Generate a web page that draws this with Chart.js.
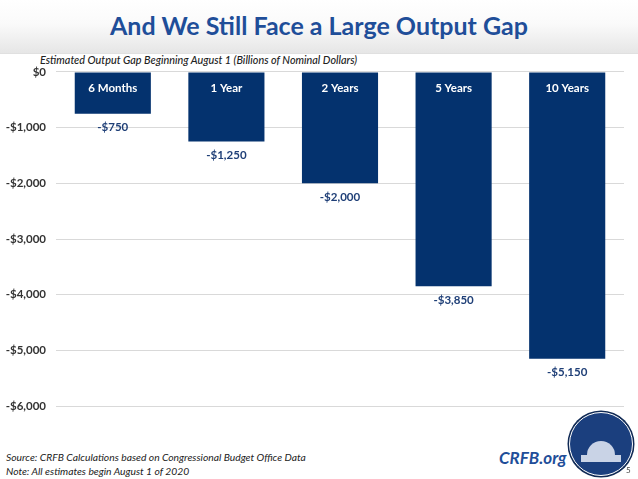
<!DOCTYPE html>
<html>
<head>
<meta charset="utf-8">
<script src="https://cdn.jsdelivr.net/npm/chart.js@4"></script>
<style>
  body { margin: 0; width: 638px; height: 479px; position: relative; background: #fff; font-family: Lato, "Open Sans", sans-serif; overflow: hidden; }
  #header { position: absolute; left: 0; top: 0; width: 638px; height: 53px; background: linear-gradient(#ffffff 0%, #fafafa 45%, #e6e6e6 100%); border-bottom: 1px solid #e0e0e0; }
  #title { position: absolute; left: 0; top: 10px; width: 638px; text-align: center; font-size: 25px; font-weight: bold; color: #1f4e99; }
  #subtitle { position: absolute; left: 40px; top: 53px; font-size: 10.8px; font-weight: 500; font-style: italic; color: #222; }
  #wrap { position: absolute; left: 0; top: 55px; width: 638px; height: 368px; }
  .foot { position: absolute; left: 6px; font-size: 10.3px; font-style: italic; color: #222; }
  #site { position: absolute; left: 499px; top: 447px; font-size: 17px; font-weight: bold; font-style: italic; color: #1f4e99; }
  #logo { position: absolute; left: 569px; top: 412px; width: 62px; height: 62px; border-radius: 50%; background: #1b3f7e; border: 1.5px solid #fff; box-shadow: 0 0 0 1.5px #102a55; overflow: hidden; }
  #dome { position: absolute; left: 17px; top: 28px; width: 28px; height: 15px; border-radius: 14px 14px 0 0; background: #c9d3e6; }
  #base { position: absolute; left: 11px; top: 42px; width: 40px; height: 7px; background: #c9d3e6; }
  #page { position: absolute; left: 626px; top: 465px; font-size: 8px; color: #444; }
</style>
</head>
<body>
<div id="header"><div id="title">And We Still Face a Large Output Gap</div></div>
<div id="subtitle">Estimated Output Gap Beginning August 1 (Billions of Nominal Dollars)</div>
<div id="wrap"><canvas id="chart"></canvas></div>
<div class="foot" style="top:451px">Source: CRFB Calculations based on Congressional Budget Office Data</div>
<div class="foot" style="top:465px">Note: All estimates begin August 1 of 2020</div>
<div id="site">CRFB.org</div>
<div id="logo"><div id="dome"></div><div id="base"></div></div>
<div id="page">5</div>
<script>
const categories = ['6 Months', '1 Year', '2 Years', '5 Years', '10 Years'];
const gapValues = [-750, -1250, -2000, -3850, -5150];
const tickValues = [0, -1000, -2000, -3000, -4000, -5000, -6000];

function money(v) {
    return (v < 0 ? '-' : '') + '$' + Math.abs(v).toLocaleString('en-US');
}

// labels inside the top of each bar and under its end
const barLabels = {
    id: 'barLabels',
    afterDatasetsDraw(chart) {
        const ctx = chart.ctx;
        const meta = chart.getDatasetMeta(0);
        ctx.save();
        ctx.textAlign = 'center';
        ctx.textBaseline = 'middle';
        ctx.font = 'bold 11.5px Lato';
        meta.data.forEach(function (bar, i) {
            ctx.fillStyle = '#ffffff';
            ctx.fillText(categories[i], bar.x, chart.chartArea.top + 16);
            ctx.fillStyle = '#1f3f77';
            ctx.fillText(money(gapValues[i]), bar.x, bar.y + 14);
        });
        ctx.restore();
    }
};

new Chart(document.getElementById('chart'), {
    type: 'bar',
    data: {
        labels: categories,
        datasets: [{
            data: gapValues,
            backgroundColor: '#04326e',
            borderWidth: 0,
            categoryPercentage: 0.67,
            barPercentage: 1
        }]
    },
    options: {
        responsive: true,
        maintainAspectRatio: false,
        animation: false,
        layout: { padding: { top: 7, right: 14, bottom: 11, left: 0 } },
        plugins: {
            legend: { display: false },
            tooltip: { enabled: false }
        },
        scales: {
            x: { display: false },
            y: {
                min: -6000,
                max: 0,
                afterBuildTicks: function (axis) {
                    axis.ticks = tickValues.map(v => ({ value: v }));
                },
                afterFit: function (axis) { axis.width = 56; },
                grid: { color: '#d9d9d9', drawTicks: false },
                border: { display: false },
                ticks: {
                    padding: 10,
                    color: '#333333',
                    font: { family: 'Lato', size: 11.5, weight: 'bold' },
                    callback: v => money(v)
                }
            }
        }
    },
    plugins: [barLabels]
});
</script>
</body>
</html>
